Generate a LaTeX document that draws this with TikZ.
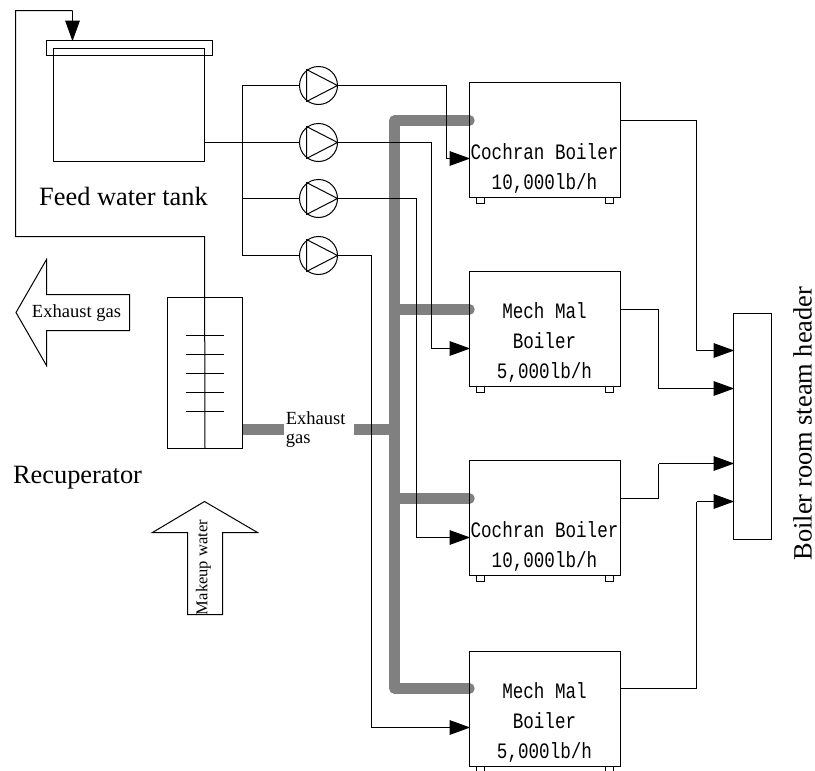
\documentclass[tikz,border=0pt]{standalone}
\usepackage{fontspec}
\setmainfont{Liberation Serif}
\newfontfamily\boilerfont[FakeStretch=0.8]{Liberation Mono}
\usepackage{xcolor}
\usepackage{tikz}
\usetikzlibrary{arrows.meta, positioning}
\definecolor{gasgray}{HTML}{808080}
\tikzset{
	wire/.style={line width=0.75pt},
	feed/.style={wire, -{Triangle[length=15.5pt, width=11pt]}, shorten >=-0.5pt},
	gas/.style={line width=7.8pt, draw=gasgray, line join=round},
	box/.style={draw, line width=0.75pt, inner sep=0pt, outer sep=0pt},
	boiler/.style={box, minimum width=113.25pt, minimum height=86.25pt},
	pump/.style={box, shape=circle, minimum size=28.5pt},
	boilertext/.style={font=\boilerfont\fontsize{16.5}{22.5}\selectfont, align=center, inner sep=0pt},
	bigtext/.style={font=\fontsize{19.8}{22}\selectfont, inner sep=0pt},
	smalltext/.style={font=\fontsize{13.9}{14.2}\selectfont, inner sep=0pt}
}

\begin{document}
\begin{tikzpicture}[x=0.75pt, y=-0.75pt]
	\useasboundingbox (-0.5, -0.5) rectangle (814.5, 770.5);
	% Exhaust gas pipes:
	\coordinate (G1) at (469, 120);
	\coordinate (G2) at (469, 309);
	\coordinate (G3) at (469, 498);
	\coordinate (G4) at (469, 688);
	\coordinate (J1) at (394, 120);
	\coordinate (J2) at (394, 309);
	\coordinate (J3) at (394, 498);
	\coordinate (J4) at (394, 688);
	\coordinate (J5) at (394, 429);
	\coordinate (S1) at (283, 429);
	\coordinate (S2) at (353, 429);
	\draw[gas, line cap=round] (G1) -- (J1) -- (J4) -- (G4);
	\draw[gas, line cap=round] (J2) -- (G2);
	\draw[gas, line cap=round] (J3) -- (G3);
	\draw[gas] (S2) -- (J5);
	% Tank, recuperator and header:
	\node[box, minimum width=124.5pt, minimum height=11.25pt] (lid) at (129, 47.5){};
	\node[box, minimum width=113.25pt, minimum height=84.75pt] (tank) at (128.5, 104.5){};
	\node[box, minimum width=56.25pt, minimum height=113.25pt] (recup) at (204.5, 372.5){};
	\node[box, minimum width=28.5pt, minimum height=169.5pt] (header) at (752, 426){};
	\draw[gas] (recup.east |- S1) -- (S1);
	% Pumps:
	\node[pump] (P1) at (318, 85){};
	\node[pump] (P2) at (318, 142){};
	\node[pump] (P3) at (318, 198){};
	\node[pump] (P4) at (318, 255){};
	\foreach \n in {1,...,4} {
		\draw[wire, line join=round] ([xshift=-9pt, yshift=12pt]P\n.center) -- (P\n.east) -- ([xshift=-9pt, yshift=-12pt]P\n.center) -- cycle;
	}
	% Boilers:
	\node[boiler] (B1) at (544.5, 139.5){};
	\node[boiler] (B2) at (544.5, 328.5){};
	\node[boiler] (B3) at (544.5, 517.5){};
	\node[boiler] (B4) at (544.5, 708.5){};
	\foreach \n in {1,...,4} {
		\draw[wire] ([xshift=5.25pt]B\n.south west) rectangle ++(6pt, -4.5pt);
		\draw[wire] ([xshift=-11.25pt]B\n.south east) rectangle ++(6pt, -4.5pt);
	}
	\node[boilertext] (T1) at (544, 168){Cochran Boiler\\10,000lb/h};
	\node[boilertext] (T2) at (544, 342){Mech Mal\\Boiler\\5,000lb/h};
	\node[boilertext] (T3) at (544, 546){Cochran Boiler\\10,000lb/h};
	\node[boilertext] (T4) at (544, 722){Mech Mal\\Boiler\\5,000lb/h};
	% Feed water loop:
	\coordinate (L1) at (204, 236);
	\coordinate (L2) at (15, 236);
	\coordinate (L3) at (15, 10);
	\coordinate (L4) at (72, 10);
	\coordinate (L5) at (72, 40);
	\draw[wire] (recup.south) -- (L1) -- (L2) -- (L3) -- (L4);
	\draw[feed] (L4) -- (L5);
	% Pump header:
	\coordinate (M1) at (242, 142);
	\coordinate (M2) at (242, 85);
	\coordinate (M3) at (242, 198);
	\coordinate (M4) at (242, 255);
	\draw[wire] (tank.east |- M1) -- (P2.west);
	\draw[wire] (P1.west) -- (M2) -- (M4) -- (P4.west);
	\draw[wire] (M3) -- (P3.west);
	% Pump outlets to boilers:
	\coordinate (I1) at (446, 158);
	\coordinate (I2) at (431, 348);
	\coordinate (I3) at (416, 537);
	\coordinate (I4) at (371, 727);
	\foreach \n in {1,...,4} {
		\draw[wire] (P\n.east) -| (I\n);
		\draw[feed] (I\n) -- (B\n.west |- I\n);
	}
	% Steam to header:
	\coordinate (O1) at (696, 350);
	\coordinate (O2) at (658, 388);
	\coordinate (O3) at (658, 463);
	\coordinate (O4) at (696, 501);
	\draw[wire] (B1.east |- G1) -| (O1);
	\draw[wire] (B2.east |- G2) -| (O2);
	\draw[wire] (B3.east |- G3) -| (O3);
	\draw[wire] (B4.east |- G4) -| (O4);
	\foreach \n in {1,...,4} {
		\draw[feed] (O\n) -- (header.west |- O\n);
	}
	% Baffles:
	\foreach \y in {335, 354, 373, 392, 411} {
		\draw[wire] (185, \y) -- (223, \y);
	}
	% Block arrows:
	\draw[wire, line join=miter] (15.5, 312) -- (46, 259) -- (46, 294) -- (129, 294) -- (129, 330) -- (46, 330) -- (46, 365) -- cycle;
	\draw[wire, line join=miter] (204, 501) -- (257, 532) -- (222, 532) -- (222, 614) -- (187, 614) -- (187, 532) -- (152, 532) -- cycle;
	% Labels:
	\node[bigtext] (tanklabel) at (123, 196){Feed water tank};
	\node[bigtext] (recuplabel) at (77, 477){Recuperator};
	\node[bigtext, rotate=90] (headerlabel) at (802, 423){Boiler room steam header};
	\node[smalltext] (gasout) at (76, 313){Exhaust gas};
	\node[smalltext, font=\fontsize{12.4}{14}\selectfont, rotate=90] (makeup) at (203, 567){Makeup water};
	\node[smalltext, align=left, anchor=west] (gasmid) at (285, 429){Exhaust\\gas};
\end{tikzpicture}
\end{document}
